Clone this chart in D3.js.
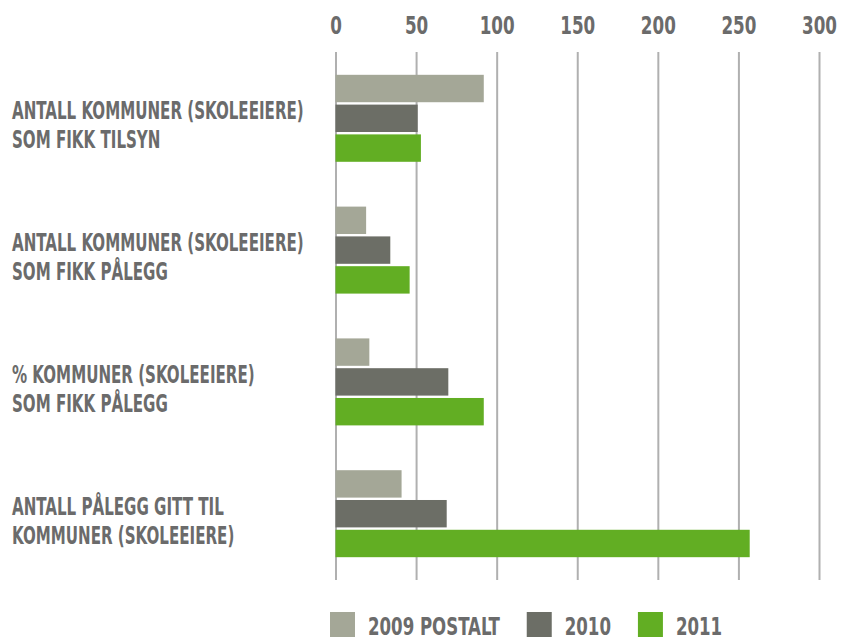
<!DOCTYPE html>
<html>
<head>
<meta charset="utf-8">
<script src="https://cdn.jsdelivr.net/npm/d3@7"></script>
<style>
  body { margin: 0; background: #fff; }
  text { font-family: "DejaVu Sans Condensed", "DejaVu Sans", sans-serif; font-weight: bold; fill: #6b6b6b; }
</style>
</head>
<body>
<div id="chart"></div>
<script>
// data
var categories = [
  ["ANTALL KOMMUNER (SKOLEEIERE)", "SOM FIKK TILSYN"],
  ["ANTALL KOMMUNER (SKOLEEIERE)", "SOM FIKK PÅLEGG"],
  ["% KOMMUNER (SKOLEEIERE)", "SOM FIKK PÅLEGG"],
  ["ANTALL PÅLEGG GITT TIL", "KOMMUNER (SKOLEEIERE)"]
]
var series = ["2009 POSTALT", "2010", "2011"]
var values2009 = [92, 19, 21, 41]
var values2010 = [51, 34, 70, 69]
var values2011 = [53, 46, 92, 257]
var ticks = [0, 50, 100, 150, 200, 250, 300]

var colors = ["#a4a797", "#6c6e66", "#62ae23"]
var allValues = [values2009, values2010, values2011]

var width = 856, height = 641

var svg = d3.select("#chart").append("svg")
  .attr("width", width)
  .attr("height", height)

var x = d3.scaleLinear().domain([0, 300]).range([335.5, 819])

var y0 = d3.scaleBand()
  .domain(d3.range(categories.length))
  .range([30, 602])
  .paddingInner(0.34)
  .paddingOuter(0.34)

var y1 = d3.scaleBand()
  .domain(series)
  .range([0, y0.bandwidth()])
  .paddingInner(0.08)
  .paddingOuter(0)

var color = d3.scaleOrdinal().domain(series).range(colors)

// the original face is a narrow display font, so squeeze ours to the same width
var probe = svg.append("text").style("font-size", "24px").text(categories[0][0])
var squeeze = 292 / probe.node().getComputedTextLength()
probe.remove()

// grid + top tick labels
var axis = svg.append("g")
  .attr("transform", "translate(0,52)")
  .call(d3.axisTop(x).tickValues(ticks).tickSize(-528).tickPadding(18))

axis.select(".domain").remove()
axis.selectAll(".tick line")
  .attr("stroke", "#b0b0b0")
  .attr("stroke-width", 2)
axis.selectAll(".tick text")
  .attr("fill", "#6b6b6b")
  .attr("transform", "scale(0.76,1)")
  .style("font-size", "24.5px")
  .style("font-family", null)

// bars
var groups = svg.selectAll(".group")
  .data(categories)
  .enter().append("g")
  .attr("class", "group")
  .attr("transform", function (d, i) { return "translate(0," + y0(i) + ")" })

groups.selectAll("rect")
  .data(function (d, i) {
    return series.map(function (s, j) { return { key: s, value: allValues[j][i] } })
  })
  .enter().append("rect")
  .attr("x", x(0))
  .attr("y", function (d) { return y1(d.key) })
  .attr("width", function (d) { return x(d.value) - x(0) })
  .attr("height", y1.bandwidth())
  .attr("fill", function (d) { return color(d.key) })

// category labels
groups.each(function (d) {
  var t = d3.select(this).append("g")
    .attr("transform", "translate(12," + (y0.bandwidth() / 2 + 1) + ") scale(" + squeeze + ",1)")
  d.forEach(function (line, k) {
    t.append("text")
      .attr("x", 0)
      .attr("y", k * 29)
      .style("font-size", "24px")
      .text(line)
  })
})

// legend
var legend = svg.append("g")
var lx = 330
series.forEach(function (s) {
  legend.append("rect")
    .attr("x", lx)
    .attr("y", 612)
    .attr("width", 25)
    .attr("height", 25)
    .attr("fill", color(s))
  var txt = legend.append("text")
    .attr("transform", "translate(" + (lx + 38) + ",635) scale(" + (squeeze * 1.1) + ",1)")
    .style("font-size", "24px")
    .text(s)
  lx = lx + 38 + txt.node().getComputedTextLength() * squeeze * 1.1 + 27
})
</script>
</body>
</html>
